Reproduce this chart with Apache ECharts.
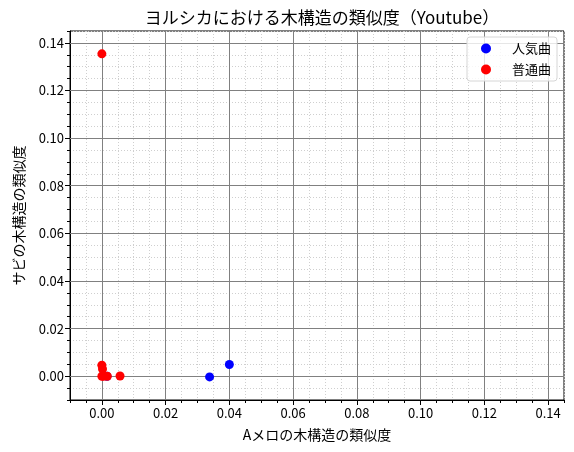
<!DOCTYPE html>
<html><head><meta charset="utf-8">
<script src="https://cdn.jsdelivr.net/npm/echarts@6/dist/echarts.min.js"></script>
<style>html,body{margin:0;padding:0;background:#fff}#c{width:574px;height:452px}</style>
</head><body><div id="c"></div>
<script>
const titleText = 'ヨルシカにおける木構造の類似度（Youtube）';
const xName = 'Aメロの木構造の類似度';
const yName = 'サビの木構造の類似度';
const seriesNames = ['人気曲', '普通曲'];
const popularX = [0.0016, 0.0338, 0.0400];
const popularY = [0.0000, -0.0003, 0.0049];
const normalX = [0.0000, 0.0000, 0.0002, 0.0000, 0.0005, 0.0017, 0.0057];
const normalY = [0.1354, 0.0046, 0.0030, 0.0000, 0.0000, 0.0000, 0.0001];
const majorTicks = [0.00, 0.02, 0.04, 0.06, 0.08, 0.10, 0.12, 0.14];
const axisMin = -0.01, axisMax = 0.145, minorStep = 0.005;

const font = '"Noto Sans CJK JP", "Noto Sans", sans-serif';
function pairs(xs, ys){ return xs.map((x,i)=>[x, ys[i]]); }
function minorAxis(name, isX){
  return {
    type:'value', min:axisMin, max:axisMax, interval:minorStep, z:0,
    name:name, nameLocation:'middle', nameGap: isX ? 28 : 44,
    nameTextStyle:{color:'#000', fontSize:14, fontFamily:font},
    axisLine:{show:true, onZero:false, lineStyle:{color:'#000', width:1}},
    axisTick:{show:true, inside:false, length:3, lineStyle:{color:'#000'}},
    axisLabel:{show:false},
    splitLine:{show:true, lineStyle:{color:'#cfcfcf', type:[1,2], width:1}}
  };
}
function majorAxis(isX){
  return {
    type:'value', min:axisMin, max:axisMax, interval:minorStep, z:1,
    position: isX ? 'bottom' : 'left',
    axisLine:{show:false, onZero:false},
    axisTick:{show:true, inside:false, length:5, customValues:majorTicks, lineStyle:{color:'#000'}},
    axisLabel:{show:true, customValues:majorTicks, color:'#000', fontSize:13, fontFamily:font, margin: isX ? 7 : 6,
      formatter:v=>v.toFixed(2)},
    splitLine:{show:true, lineStyle:{color:'#808080', width:1}}
  };
}
const chart = echarts.init(document.getElementById('c'), null, {renderer:'canvas'});
chart.setOption({
  animation:false,
  backgroundColor:'#fff',
  title:{text:titleText, left:317, textAlign:'center', top:4,
    textStyle:{fontSize:17, fontWeight:'normal', color:'#000', fontFamily:font}},
  grid:{left:70, right:10, top:31, bottom:52, show:true, borderColor:'#000', borderWidth:1},
  xAxis: [minorAxis(xName, true), majorAxis(true)],
  yAxis: [minorAxis(yName, false), majorAxis(false)],
  legend:{left:467, top:37, orient:'vertical', icon:'circle', itemWidth:10, itemHeight:10, itemGap:8,
    backgroundColor:'rgba(255,255,255,0.8)', borderColor:'#d6d6d6', borderWidth:1, borderRadius:3,
    padding:[5,6,5,14],
    textStyle:{fontSize:13, color:'#000', fontFamily:font, padding:[0,0,0,16]},
    data:seriesNames},
  series:[
    {name:seriesNames[0], type:'scatter', data:pairs(popularX, popularY), symbolSize:9, z:3,
      itemStyle:{color:'#0000ff', opacity:1}},
    {name:seriesNames[1], type:'scatter', data:pairs(normalX, normalY), symbolSize:9, z:4,
      itemStyle:{color:'#ff0000', opacity:1}}
  ]
});
</script></body></html>
